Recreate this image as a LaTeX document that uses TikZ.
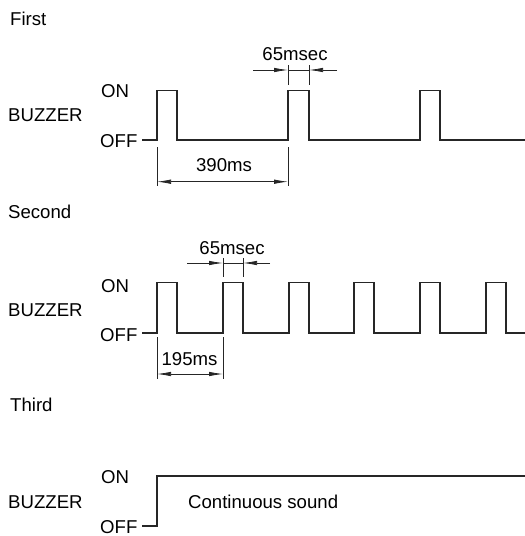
\documentclass[tikz,border=0pt]{standalone}
\usepackage{fontspec}
\setmainfont{Liberation Sans}
\usetikzlibrary{arrows.meta}
\begin{document}
\begin{tikzpicture}[x=1pt,y=-1pt,
  sig/.style={line width=1.1pt, draw=black!85},
  dim/.style={line width=0.75pt, draw=black!85},
  lbl/.style={font=\fontsize{18.6}{20}\selectfont, inner sep=0pt, anchor=west},
  dlbl/.style={font=\fontsize{18.6}{20}\selectfont, inner sep=0pt},
  tip/.tip={Latex[length=14pt,width=4.5pt]}]
\useasboundingbox (0,0) rectangle (525,536);

% ---------- First ----------
\node[lbl] (t1) at (10,19) {First};
\node[lbl] (b1) at (8,115.5) {BUZZER};
\node[lbl] (on1) at (101,91.5) {ON};
\node[lbl] (off1) at (100,141) {OFF};
\draw[sig] (142,140) -- (157,140) -- (157,90.5) -- (177,90.5) -- (177,140)
  -- (288,140) -- (288,90.5) -- (309,90.5) -- (309,140)
  -- (420,140) -- (420,90.5) -- (440,90.5) -- (440,140) -- (525,140);
% 390ms dimension
\coordinate (a1) at (157,181.7);
\coordinate (a2) at (288,181.7);
\draw[dim] (157,147) -- (157,186);
\draw[dim] (288,147) -- (288,186);
\draw[dim,tip-tip] (a1) -- (a2);
\node[dlbl] (d390) at (224,165) {390ms};
% 65msec dimension
\coordinate (p1) at (253,70);
\coordinate (p2) at (288,70);
\coordinate (p3) at (309,70);
\coordinate (p4) at (337,70);
\draw[dim] (288,65) -- (288,85);
\draw[dim] (309,65) -- (309,85);
\draw[dim,-tip] (p1) -- (p2);
\draw[dim,-tip] (p4) -- (p3);
\draw[dim] (p2) -- (p3);
\node[dlbl] (d65a) at (295,54.5) {65msec};

% ---------- Second ----------
\node[lbl] (t2) at (8,212) {Second};
\node[lbl] (b2) at (8,310) {BUZZER};
\node[lbl] (on2) at (101,286.5) {ON};
\node[lbl] (off2) at (100,335) {OFF};
\draw[sig] (142,333) -- (157,333) -- (157,282.5) -- (177,282.5) -- (177,333)
  -- (223,333) -- (223,282.5) -- (243,282.5) -- (243,333)
  -- (289,333) -- (289,282.5) -- (309,282.5) -- (309,333)
  -- (354,333) -- (354,282.5) -- (374,282.5) -- (374,333)
  -- (420,333) -- (420,282.5) -- (440,282.5) -- (440,333)
  -- (486,333) -- (486,282.5) -- (506,282.5) -- (506,333) -- (525,333);
% 65msec dimension
\coordinate (q1) at (187,263);
\coordinate (q2) at (223,263);
\coordinate (q3) at (243,263);
\coordinate (q4) at (270,263);
\draw[dim] (223,258) -- (223,277);
\draw[dim] (243,258) -- (243,277);
\draw[dim,-tip] (q1) -- (q2);
\draw[dim,-tip] (q4) -- (q3);
\draw[dim] (q2) -- (q3);
\node[dlbl] (d65b) at (232,248.5) {65msec};
% 195ms dimension
\coordinate (r1) at (157,374);
\coordinate (r2) at (223,374);
\draw[dim] (157,337) -- (157,379);
\draw[dim] (223,337) -- (223,379);
\draw[dim,tip-tip] (r1) -- (r2);
\node[dlbl] (d195) at (189.5,359.5) {195ms};

% ---------- Third ----------
\node[lbl] (t3) at (10,405) {Third};
\node[lbl] (b3) at (8,502) {BUZZER};
\node[lbl] (on3) at (101,477) {ON};
\node[lbl] (off3) at (100,527) {OFF};
\draw[sig] (142,526) -- (157,526) -- (157,476) -- (525,476);
\node[lbl] (cs) at (188,502) {Continuous sound};
\end{tikzpicture}
\end{document}
